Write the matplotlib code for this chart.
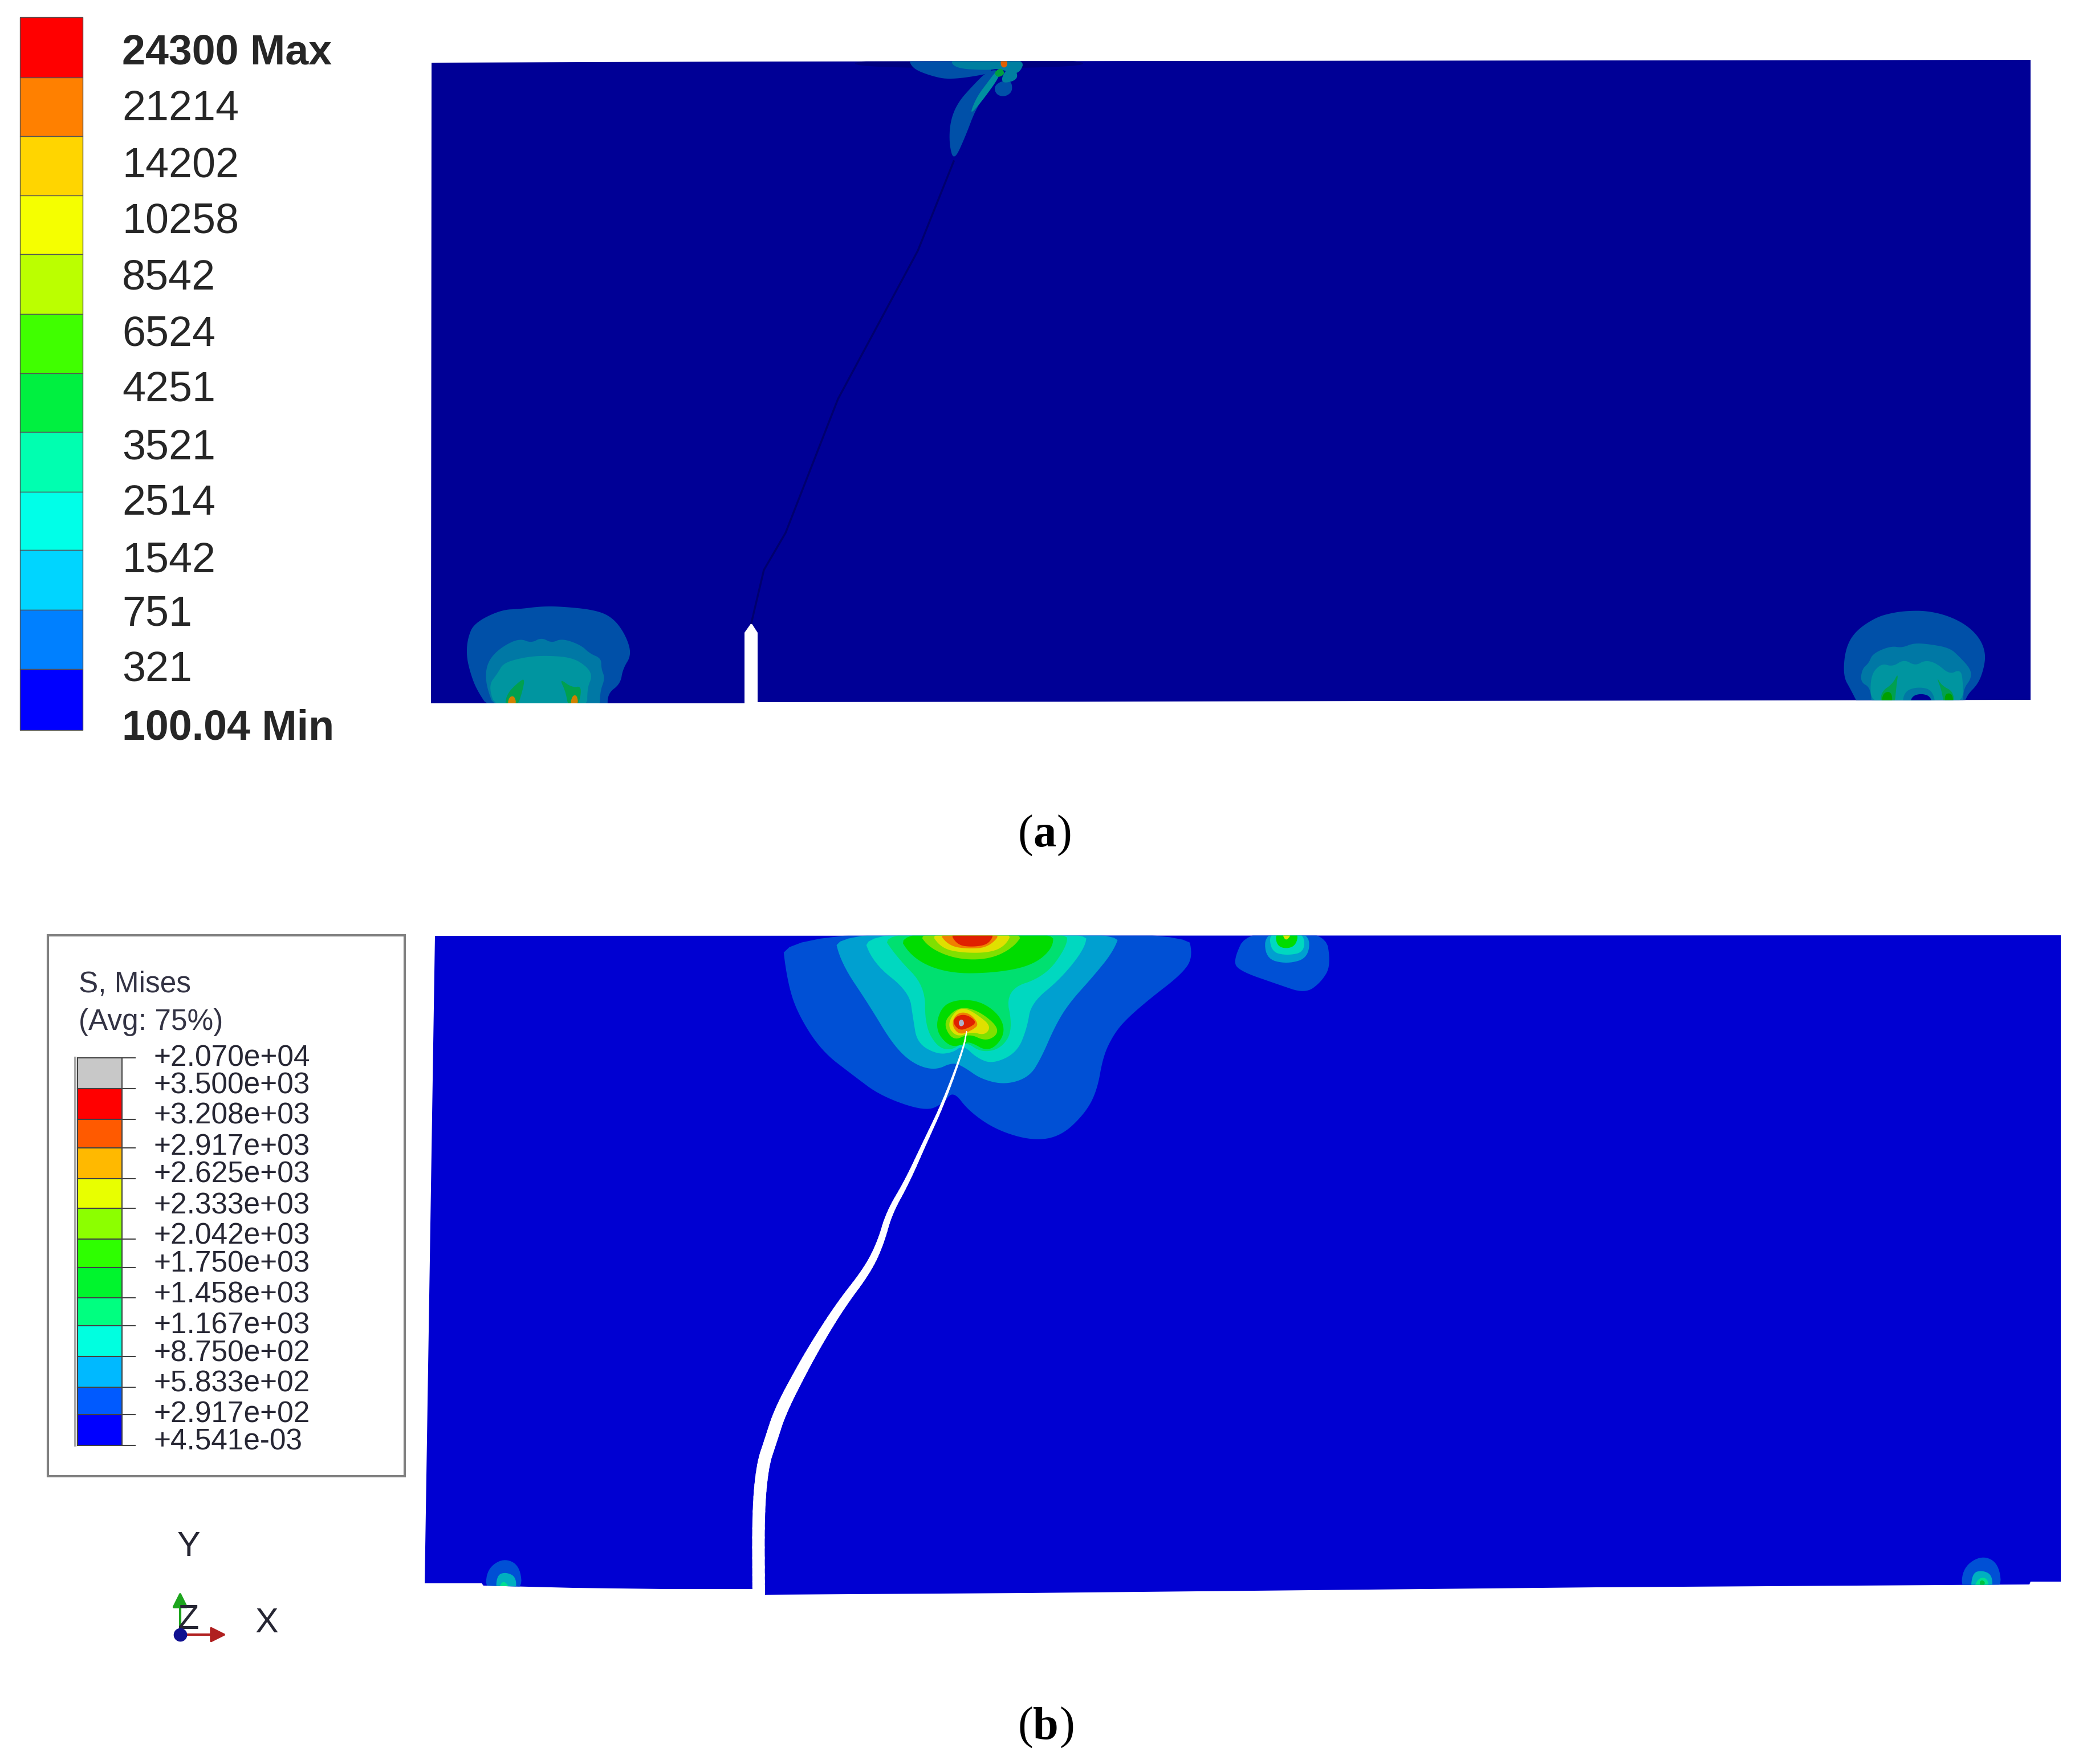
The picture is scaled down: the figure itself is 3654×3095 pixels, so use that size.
import numpy as np
import matplotlib
matplotlib.use("Agg")
import matplotlib.pyplot as plt
from matplotlib.collections import LineCollection
from matplotlib.patches import Polygon

plt.rcParams["font.family"] = ["Liberation Sans", "DejaVu Sans"]

# legend (a): band edges read in the crop, then scaled below
a_labels = ["24300 Max", "21214", "14202", "10258", "8542", "6524", "4251",
            "3521", "2514", "1542", "751", "321", "100.04 Min"]
a_label_y = [108, 222, 339, 452, 567, 682, 794, 912, 1025, 1142, 1252, 1365, 1484]
a_edges = [35, 158, 278, 398, 518, 640, 760, 880, 1002, 1120, 1242, 1363, 1487]
a_colors = ["#FF0000", "#FF8000", "#FFD500", "#F5FF00", "#BBFF00", "#40FF00",
            "#00F040", "#00FFB0", "#00FFE8", "#00D5FF", "#0080FF", "#0000FF"]

# legend (b)
b_labels = ["+2.070e+04", "+3.500e+03", "+3.208e+03", "+2.917e+03", "+2.625e+03",
            "+2.333e+03", "+2.042e+03", "+1.750e+03", "+1.458e+03", "+1.167e+03",
            "+8.750e+02", "+5.833e+02", "+2.917e+02", "+4.541e-03"]
b_label_y = [286, 344, 408, 474, 532, 598, 662, 721, 786, 851, 911, 974, 1039, 1098]
b_edges = [285, 350, 415, 475, 540, 603, 668, 728, 792, 852, 917, 982, 1040, 1105]
b_colors = ["#C8C8C8", "#FF0000", "#FF5A00", "#FFB900", "#E8FF00", "#8CFF00", "#2EFF00",
            "#00F52D", "#00FF80", "#00FFE0", "#00B9FF", "#005AFF", "#0000FF"]

# specimen outlines, image pixels
panel_a = [(757, 110), (1300, 108), (3562, 105), (3562, 1228), (1329, 1232), (1329, 1110),
           (1318, 1093), (1306, 1110), (1306, 1234), (756, 1234)]
panel_b = [(763, 1642), (3615, 1641), (3615, 2775), (3562, 2775), (3560, 2780), (2800, 2785),
           (1800, 2795), (1342, 2798), (1342, 2790), (1318, 2788), (1167, 2788), (1007, 2786),
           (848, 2782), (845, 2778), (745, 2778)]

# crack centre lines (crack b in crop coordinates) and widths in pixels
crack_a_x = [1318, 1340, 1378, 1470, 1610, 1673]
crack_a_y = [1093, 1000, 935, 700, 440, 283]
crack_b_x = [342, 340, 360, 395, 440, 540, 620, 720, 840, 900, 940, 1020, 1100, 1190, 1280, 1295]
crack_b_y = [1490, 1270, 1150, 1090, 1010, 900, 820, 730, 640, 570, 490, 410, 310, 200, 60, 15]
crack_b_w = [22, 22, 22, 22, 22, 20, 18, 16, 14, 12, 11, 9, 7, 5, 3, 2]

# contour bands of panel (a), crop coordinates
a_left = [
    ("#0050A8", [(270, 620), (215, 510), (190, 420), (175, 330), (180, 240), (205, 160), (310, 90), (390, 85),
                 (465, 72), (545, 72), (680, 90), (750, 130), (800, 220), (825, 325), (790, 400), (780, 480),
                 (730, 530), (730, 620)]),
    ("#0078A5", [(290, 620), (255, 500), (250, 410), (270, 340), (320, 280), (385, 240), (430, 265), (470, 235),
                 (510, 265), (550, 240), (625, 275), (660, 320), (705, 345), (705, 400), (720, 450), (700, 520),
                 (700, 620)]),
    ("#0095A0", [(295, 620), (260, 490), (300, 420), (320, 370), (400, 340), (480, 330), (590, 340), (650, 390),
                 (670, 440), (650, 500), (650, 620)]),
    ("#00A050", [(325, 600), (335, 530), (380, 470), (405, 450), (395, 520), (375, 600)]),
    ("#00A050", [(575, 600), (565, 520), (540, 450), (590, 500), (630, 490), (615, 600)]),
    ("#D08000", [(335, 590), (345, 545), (365, 545), (372, 590)]),
    ("#D08000", [(582, 590), (592, 540), (610, 540), (615, 590)]),
]
a_right = [
    ("#0050A8", [(340, 610), (290, 510), (250, 440), (260, 300), (310, 205), (420, 130), (510, 105), (590, 95),
                 (690, 95), (800, 120), (900, 170), (970, 240), (1000, 320), (990, 400), (960, 480), (900, 540),
                 (880, 610)]),
    ("#0078A5", [(400, 610), (395, 500), (340, 470), (350, 400), (385, 370), (405, 320), (500, 280), (560, 290),
                 (620, 265), (700, 270), (810, 290), (860, 335), (920, 400), (925, 450), (880, 510), (885, 610)]),
    ("#0095A0", [(400, 610), (390, 440), (450, 370), (510, 390), (570, 350), (630, 385), (680, 355), (740, 370),
                 (810, 430), (860, 405), (880, 440), (880, 610)]),
    ("#0078A5", [(560, 610), (570, 520), (640, 495), (720, 510), (740, 610)]),
    ("#000096", [(600, 600), (610, 545), (660, 530), (710, 545), (720, 600)]),
    ("#00A050", [(445, 600), (450, 520), (510, 480), (540, 420), (530, 490), (520, 600)]),
    ("#00A050", [(780, 600), (770, 520), (740, 440), (770, 490), (830, 520), (835, 600)]),
    ("#00A000", [(450, 590), (460, 525), (505, 520), (510, 590)]),
    ("#00A000", [(785, 590), (785, 530), (825, 530), (830, 590)]),
]
a_top = [
    ("#00007E", [(0, 70), (1200, 70), (1200, 118), (0, 118)]),
    ("#0050A8", [(280, 60), (300, 120), (400, 160), (500, 180), (700, 150), (720, 130), (720, 60)]),
    ("#0050A8", [(520, 610), (495, 520), (500, 400), (540, 300), (620, 210), (700, 130), (770, 130), (640, 320),
                 (580, 480)]),
    ("#0050A8", [(730, 220), (760, 190), (820, 180), (830, 240), (790, 270), (745, 260)]),
    ("#007FA0", [(500, 60), (520, 120), (700, 130), (760, 120), (860, 160), (900, 60)]),
    ("#007FA0", [(800, 120), (850, 130), (855, 180), (780, 200), (770, 170)]),
    ("#008FA0", [(600, 370), (640, 270), (700, 190), (745, 130), (770, 150), (670, 290)]),
    ("#00A040", [(730, 140), (770, 115), (790, 150), (750, 170)]),
    ("#E06000", [(765, 70), (802, 70), (800, 115), (768, 115)]),
]

# contour bands of panel (b), crop coordinates
b_main = [
    ("#0050D5", [(100, 40), (115, 300), (140, 470), (200, 670), (280, 800), (350, 910), (460, 990), (505, 950),
                 (530, 880), (570, 990), (640, 1090), (730, 1145), (800, 1120), (860, 1000), (890, 880), (905, 700),
                 (930, 590), (960, 510), (1020, 400), (1100, 270), (1130, 180), (1115, 40)]),
    ("#00A0D0", [(230, 40), (250, 210), (320, 430), (380, 640), (430, 740), (485, 775), (530, 730), (560, 760),
                 (600, 820), (660, 850), (720, 810), (750, 710), (785, 540), (820, 420), (880, 280), (930, 150),
                 (950, 40)]),
    ("#00D8C0", [(300, 40), (330, 210), (420, 360), (430, 500), (440, 630), (490, 690), (530, 680), (555, 640),
                 (590, 710), (630, 740), (690, 680), (715, 550), (725, 420), (800, 290), (860, 130), (865, 40)]),
    ("#00E070", [(345, 40), (390, 180), (460, 330), (460, 540), (490, 650), (525, 670), (560, 620), (600, 680),
                 (650, 660), (680, 560), (660, 350), (760, 280), (815, 120), (815, 40)]),
    ("#00DC00", [(385, 40), (430, 190), (520, 265), (640, 260), (730, 220), (780, 130), (780, 40)]),
    ("#00DC00", [(485, 560), (500, 440), (540, 400), (600, 410), (650, 490), (660, 590), (620, 680), (570, 620),
                 (555, 640), (520, 650)]),
    ("#80E000", [(440, 40), (470, 130), (540, 190), (620, 190), (680, 130), (710, 40)]),
    ("#E0E000", [(470, 40), (500, 130), (550, 155), (620, 155), (660, 120), (680, 40)]),
    ("#F08000", [(490, 40), (520, 120), (570, 135), (620, 125), (655, 40)]),
    ("#E02000", [(520, 40), (540, 115), (580, 125), (620, 110), (635, 40)]),
    ("#80E000", [(505, 530), (530, 460), (560, 440), (600, 470), (640, 540), (640, 590), (610, 620), (570, 580),
                 (530, 620)]),
    ("#E0E000", [(515, 540), (535, 460), (560, 445), (590, 480), (625, 540), (610, 590), (575, 570), (540, 600)]),
    ("#F08000", [(525, 530), (540, 470), (570, 470), (595, 530), (580, 560), (545, 590)]),
    ("#E02000", [(528, 520), (540, 485), (565, 480), (590, 520), (570, 550), (545, 565)]),
    ("#B0B0C8", [(543, 525), (548, 505), (556, 510), (558, 535), (548, 545)]),
    ("#0050D5", [(1265, 40), (1230, 195), (1245, 250), (1340, 320), (1410, 370), (1450, 310), (1475, 220), (1460, 40)]),
    ("#00A0D0", [(1310, 40), (1310, 185), (1365, 215), (1420, 180), (1420, 40)]),
    ("#00D8C0", [(1320, 40), (1325, 150), (1365, 170), (1410, 150), (1405, 40)]),
    ("#00DC00", [(1335, 40), (1340, 130), (1385, 130), (1395, 40)]),
    ("#E0E000", [(1350, 40), (1362, 100), (1380, 40)]),
]
b_left = [
    ("#0050D5", [(340, 340), (345, 220), (410, 160), (475, 200), (485, 340)]),
    ("#00B0C0", [(380, 340), (385, 250), (420, 235), (460, 260), (460, 340)]),
    ("#00E090", [(385, 340), (410, 270), (445, 340)]),
]
b_right = [
    ("#0050D5", [(420, 340), (430, 210), (530, 145), (620, 190), (635, 340)]),
    ("#00B0C0", [(470, 340), (480, 240), (530, 225), (585, 250), (585, 340)]),
    ("#00E090", [(480, 340), (510, 265), (560, 265), (570, 340)]),
    ("#00C040", [(515, 290), (530, 275), (550, 290), (530, 320)]),
]


def crop_to_px(pts, x0, y0, sx, sy):
    pts = np.asarray(pts, dtype=float)
    return np.column_stack([x0 + pts[:, 0] / sx, y0 + pts[:, 1] / sy])


def rounded(pts, n=3):
    # corner cutting, the FE contours have soft edges
    for _ in range(n):
        nxt = np.roll(pts, -1, axis=0)
        pts = np.column_stack([0.75 * pts + 0.25 * nxt, 0.25 * pts + 0.75 * nxt]).reshape(-1, 2)
    return pts


def rounded_open(pts, n=3):
    # same thing for a path, ends stay where they are
    for _ in range(n):
        q = 0.75 * pts[:-1] + 0.25 * pts[1:]
        r = 0.25 * pts[:-1] + 0.75 * pts[1:]
        pts = np.vstack([pts[:1], np.column_stack([q, r]).reshape(-1, pts.shape[1]), pts[-1:]])
    return pts


def draw_bands(ax, bands, clip, x0, y0, sx, sy):
    for color, pts in bands:
        xy = rounded(crop_to_px(pts, x0, y0, sx, sy))
        patch = ax.fill(xy[:, 0], xy[:, 1], color=color, lw=0, zorder=2)[0]
        patch.set_clip_path(clip)


fig = plt.figure(figsize=(36.55, 30.95), dpi=100)
ax = fig.add_axes([0, 0, 1, 1])
ax.set_xlim(0, 3655)
ax.set_ylim(3095, 0)
ax.axis("off")

# panel (a)
clip_a = Polygon(panel_a, closed=True, fc="#000096", ec="none", zorder=1)
ax.add_patch(clip_a)
draw_bands(ax, a_left, clip_a, 740, 1040, 2.24, 3)
draw_bands(ax, a_right, clip_a, 3150, 1040, 3, 3)
draw_bands(ax, a_top, clip_a, 1500, 80, 3, 3)
ax.plot(crack_a_x, crack_a_y, color="#00006E", lw=2.5, zorder=3)

edges = np.array(a_edges) / 1.161
ax.barh((edges[:-1] + edges[1:]) / 2, 110, left=35, height=np.diff(edges), color=a_colors,
        edgecolor="#555555", linewidth=1.0, zorder=2)
for i, (lab, y) in enumerate(zip(a_labels, a_label_y)):
    bold = i in (0, len(a_labels) - 1)
    ax.text(214, y / 1.161, lab, fontsize=53, va="center", ha="left", color="#262626",
            fontweight="bold" if bold else "normal")

# panel (b)
clip_b = Polygon(panel_b, closed=True, fc="#0000D2", ec="none", zorder=1)
ax.add_patch(clip_b)
draw_bands(ax, b_main, clip_b, 1300, 1620, 1.425, 3)
draw_bands(ax, b_left, clip_b, 700, 2680, 2.24, 3)
draw_bands(ax, b_right, clip_b, 3300, 2680, 3, 3)

crack = crop_to_px(np.column_stack([crack_b_x, crack_b_y]), 1200, 1800, 2.613, 1.493)
path = rounded_open(np.column_stack([crack, crack_b_w]))
segs = np.stack([path[:-1, :2], path[1:, :2]], axis=1)
ax.add_collection(LineCollection(segs, linewidths=path[:-1, 2] * 0.72,
                                 colors="white", capstyle="round", zorder=4))

# legend box (b)
ax.add_patch(plt.Rectangle((84, 1641), 626, 949, fc="white", ec="#808080", lw=3, zorder=1))
ax.text(138, 1727, "S, Mises", fontsize=37, va="center", color="#333344")
ax.text(138, 1793, "(Avg: 75%)", fontsize=37, va="center", color="#333344")
edges = 1620 + np.array(b_edges) / 1.206
ax.barh((edges[:-1] + edges[1:]) / 2, 78, left=136, height=np.diff(edges), color=b_colors,
        edgecolor="#444444", linewidth=1.5, zorder=2)
ax.plot([132, 132], [edges[0], edges[-1]], color="#A8A8A8", lw=3, zorder=2)
ax.hlines(edges, 214, 238, color="#444444", lw=1.5, zorder=2)
for lab, y in zip(b_labels, b_label_y):
    ax.text(270, 1620 + y / 1.206, lab, fontsize=37, va="center", ha="left", color="#262633")

# triad
ax.annotate("", xy=(316, 2790), xytext=(316, 2870),
            arrowprops=dict(arrowstyle="-|>", color="#1DA51D", lw=3, mutation_scale=40))
ax.annotate("", xy=(400, 2868), xytext=(316, 2868),
            arrowprops=dict(arrowstyle="-|>", color="#B02020", lw=3, mutation_scale=40))
ax.plot([316], [2868], "o", color="#101090", ms=16, zorder=5)
ax.text(331, 2715, "Y", fontsize=44, ha="center", va="center", color="#262633")
ax.text(331, 2842, "Z", fontsize=44, ha="center", va="center", color="#262633")
ax.text(468, 2849, "X", fontsize=44, ha="center", va="center", color="#262633")

# captions
cap = {"family": ["Liberation Serif", "DejaVu Serif"], "fontsize": 58, "va": "center"}
ax.text(1786, 1466, "(", ha="left", **cap)
ax.text(1812, 1466, "a", ha="left", fontweight="bold", **cap)
ax.text(1853, 1466, ")", ha="left", **cap)
ax.text(1786, 3031, "(", ha="left", **cap)
ax.text(1812, 3031, "b", ha="left", fontweight="bold", **cap)
ax.text(1858, 3031, ")", ha="left", **cap)

fig.savefig("out.png", dpi=100)
